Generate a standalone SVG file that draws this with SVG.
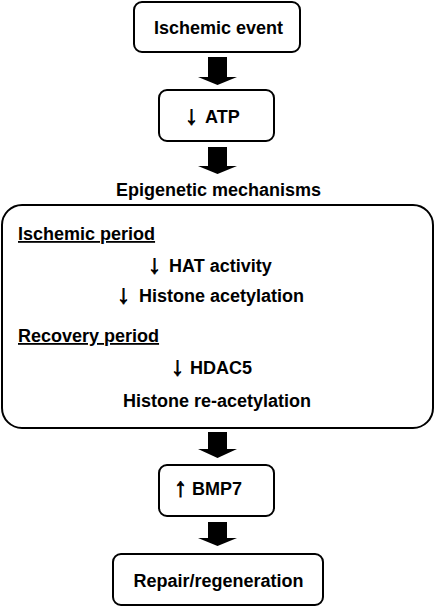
<svg xmlns="http://www.w3.org/2000/svg" width="435" height="607" viewBox="0 0 435 607">
<style>
.box{fill:#fff;stroke:#000;stroke-width:2}
.t{font-family:"Liberation Sans",Arial,sans-serif;font-weight:bold;font-size:18px;fill:#000}
.a{font-family:"Liberation Sans",Arial,sans-serif;font-weight:bold;font-size:26px;fill:#000;stroke:#000;stroke-width:0.9}
.m{text-anchor:middle}
.u{text-decoration:underline}
.arr{fill:#000}
</style>
<rect width="435" height="607" fill="#fff"/>
<g id="connectors">
<polygon class="arr" points="208,57 227,57 227,77 237,77 217.5,85 198,77 208,77"/>
<polygon class="arr" points="208,147 227,147 227,166 237,166 217.5,174 198,166 208,166"/>
<polygon class="arr" points="208,432 227,432 227,449 237,449 217.5,458 198,449 208,449"/>
<polygon class="arr" points="208,522 227,522 227,538 237,538 217.5,546 198,538 208,538"/>
</g>
<g id="n1">
<rect class="box" x="134" y="2" width="166" height="50" rx="8"/>
<text class="t m" x="218.5" y="34">Ischemic event</text>
</g>
<g id="n2">
<rect class="box" x="159" y="90" width="115" height="51" rx="8"/>
<text class="a" x="185" y="124">↓</text>
<text class="t" x="205" y="123">ATP</text>
</g>
<g id="n3">
<text class="t m" x="218.5" y="196">Epigenetic mechanisms</text>
<rect class="box" x="2" y="205" width="431" height="223" rx="20"/>
<text class="t u" x="18" y="240">Ischemic period</text>
<text class="a" x="148" y="273">↓</text>
<text class="t" x="169" y="272">HAT activity</text>
<text class="a" x="117" y="303">↓</text>
<text class="t" x="139" y="302">Histone acetylation</text>
<text class="t u" x="18" y="342">Recovery period</text>
<text class="a" x="171" y="375">↓</text>
<text class="t" x="190" y="374">HDAC5</text>
<text class="t m" x="217" y="407">Histone re-acetylation</text>
</g>
<g id="n4">
<rect class="box" x="159" y="465" width="115" height="51" rx="8"/>
<text class="a" x="174" y="496">↑</text>
<text class="t" x="192" y="495">BMP7</text>
</g>
<g id="n5">
<rect class="box" x="113" y="554" width="210" height="51" rx="8"/>
<text class="t m" x="218.5" y="587">Repair/regeneration</text>
</g>
</svg>
